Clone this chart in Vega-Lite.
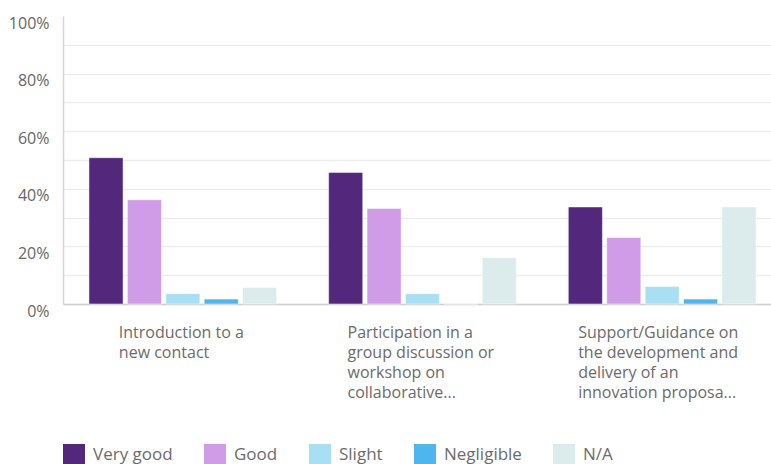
{
  "$schema": "https://vega.github.io/schema/vega-lite/v6.json",
  "width": 708,
  "height": 288,
  "padding": {"left": 8, "top": 15, "right": 0, "bottom": 0},
  "background": "white",
  "config": {"view": {"stroke": null}, "font": "Open Sans"},
  "data": {
    "values": [
      {"item": "Introduction to a|new contact", "rating": "Very good", "value": 0.508},
      {"item": "Introduction to a|new contact", "rating": "Good", "value": 0.362},
      {"item": "Introduction to a|new contact", "rating": "Slight", "value": 0.036},
      {"item": "Introduction to a|new contact", "rating": "Negligible", "value": 0.017},
      {"item": "Introduction to a|new contact", "rating": "N/A", "value": 0.057},
      {"item": "Participation in a|group discussion or|workshop on|collaborative...", "rating": "Very good", "value": 0.457},
      {"item": "Participation in a|group discussion or|workshop on|collaborative...", "rating": "Good", "value": 0.332},
      {"item": "Participation in a|group discussion or|workshop on|collaborative...", "rating": "Slight", "value": 0.036},
      {"item": "Participation in a|group discussion or|workshop on|collaborative...", "rating": "Negligible", "value": 0},
      {"item": "Participation in a|group discussion or|workshop on|collaborative...", "rating": "N/A", "value": 0.161},
      {"item": "Support/Guidance on|the development and|delivery of an|innovation proposa...", "rating": "Very good", "value": 0.337},
      {"item": "Support/Guidance on|the development and|delivery of an|innovation proposa...", "rating": "Good", "value": 0.231},
      {"item": "Support/Guidance on|the development and|delivery of an|innovation proposa...", "rating": "Slight", "value": 0.061},
      {"item": "Support/Guidance on|the development and|delivery of an|innovation proposa...", "rating": "Negligible", "value": 0.017},
      {"item": "Support/Guidance on|the development and|delivery of an|innovation proposa...", "rating": "N/A", "value": 0.337}
    ]
  },
  "mark": {"type": "bar", "stroke": "white", "strokeOpacity": 0.5, "strokeWidth": 1},
  "encoding": {
    "x": {
      "field": "item",
      "type": "nominal",
      "sort": null,
      "scale": {"range": [0, 719], "paddingInner": 0, "paddingOuter": 0},
      "axis": {
        "title": null,
        "labelAngle": 0,
        "labelExpr": "split(datum.label, '|')",
        "labelAlign": "left",
        "labelBaseline": "top",
        "labelLineHeight": 20,
        "labelFontSize": 16,
        "labelColor": "#6b6b6b",
        "labelPadding": 20,
        "labelLimit": 300,
        "labelOffset": {
          "condition": [
            {"test": "indexof(datum.value, 'Introduction') == 0", "value": -64},
            {"test": "indexof(datum.value, 'Participation') == 0", "value": -75}
          ],
          "value": -84
        },
        "ticks": false,
        "domainColor": "#cfcfcf",
        "domainWidth": 1.5
      }
    },
    "xOffset": {
      "field": "rating",
      "type": "nominal",
      "sort": ["Very good", "Good", "Slight", "Negligible", "N/A"],
      "scale": {"paddingInner": 0.112, "paddingOuter": 0.676}
    },
    "y": {
      "field": "value",
      "type": "quantitative",
      "scale": {"domain": [0, 1], "nice": false},
      "axis": {
        "title": null,
        "values": [0, 0.1, 0.2, 0.3, 0.4, 0.5, 0.6, 0.7, 0.8, 0.9, 1],
        "labelExpr": "round(datum.value * 100) % 20 == 0 ? format(datum.value, '.0%') : ''",
        "labelFontSize": 16,
        "labelColor": "#666666",
        "labelPadding": 14,
        "labelOffset": 7,
        "ticks": false,
        "domainColor": "#d6d6d6",
        "domainWidth": 1.5,
        "gridColor": "#ededed",
        "gridWidth": 1.5,
        "gridOpacity": {"condition": {"test": "datum.value == 1", "value": 0}, "value": 1}
      }
    },
    "color": {
      "field": "rating",
      "type": "nominal",
      "sort": ["Very good", "Good", "Slight", "Negligible", "N/A"],
      "scale": {
        "domain": ["Very good", "Good", "Slight", "Negligible", "N/A"],
        "range": ["#52277c", "#d09be7", "#a8dff3", "#4fb5ef", "#dcecec"]
      },
      "legend": {
        "title": null,
        "orient": "bottom",
        "direction": "horizontal",
        "symbolType": "square",
        "symbolSize": 484,
        "symbolStrokeWidth": 0,
        "symbolOpacity": 1,
        "labelFontSize": 17,
        "labelColor": "#6b6b6b",
        "labelOffset": 8,
        "columnPadding": 31,
        "offset": 44
      }
    }
  }
}
